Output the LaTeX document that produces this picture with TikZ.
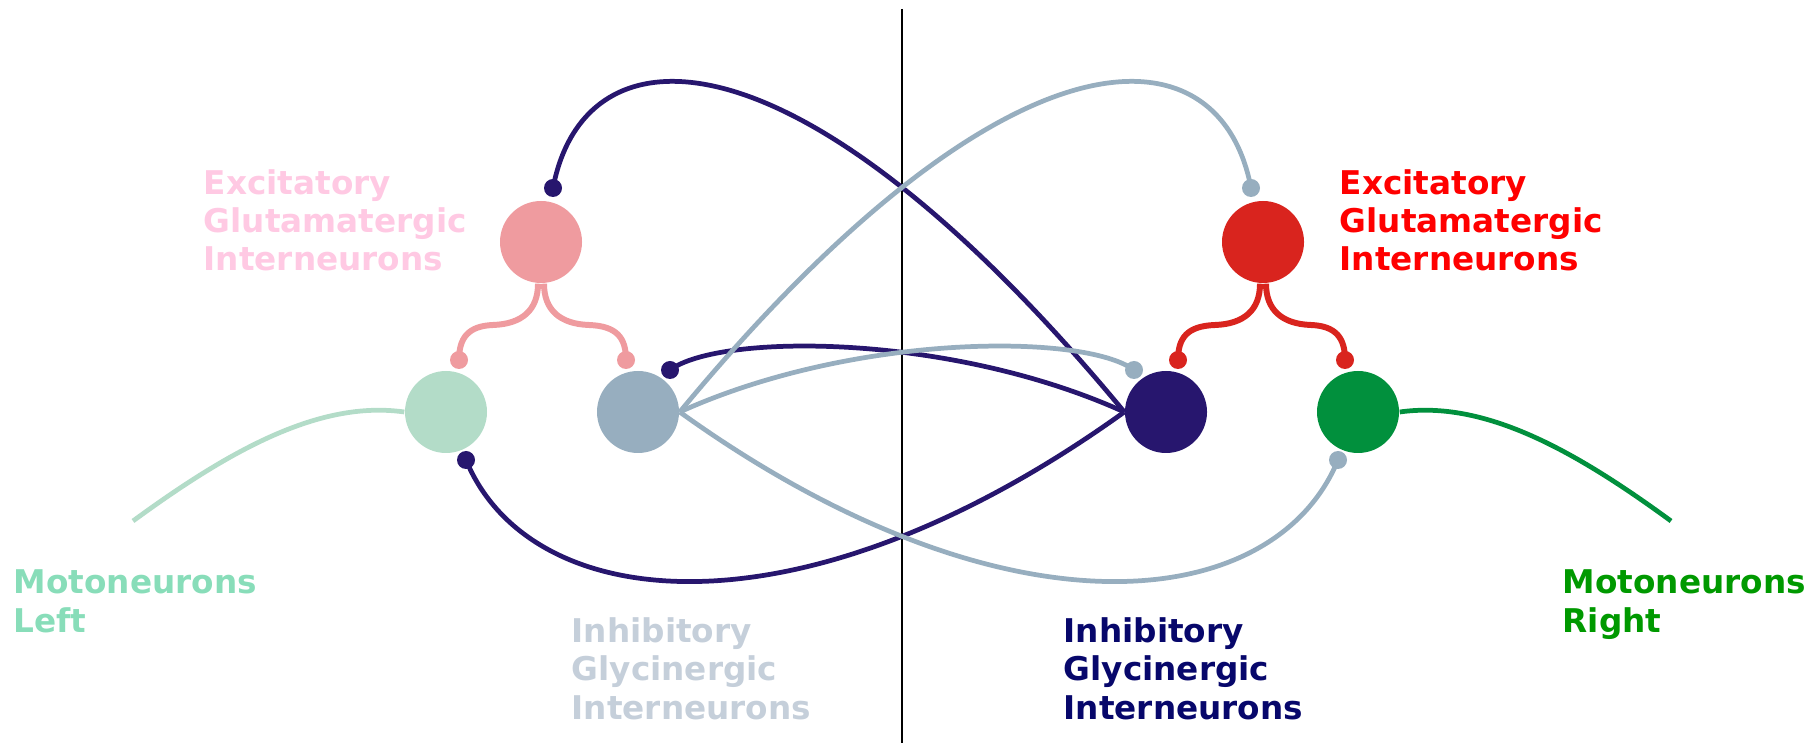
\documentclass[tikz,border=0pt]{standalone}
\usepackage{fontspec}
\setmainfont{DejaVu Sans}
\usepackage{xcolor}
\definecolor{excLfill}{HTML}{EF9B9F}
\definecolor{excLtext}{HTML}{FFC9E3}
\definecolor{motLfill}{HTML}{B3DCC8}
\definecolor{motLtext}{HTML}{88DDB9}
\definecolor{inhLfill}{HTML}{97AEBF}
\definecolor{inhLtext}{HTML}{C5CFDA}
\definecolor{inhRfill}{HTML}{27166E}
\definecolor{inhRtext}{HTML}{07076B}
\definecolor{excRfill}{HTML}{D9241E}
\definecolor{excRtext}{HTML}{FF0000}
\definecolor{motRfill}{HTML}{01903D}
\definecolor{motRtext}{HTML}{009900}

\begin{document}
\begin{tikzpicture}[x=1cm,y=-1cm,
  cell/.style={circle,inner sep=0pt,minimum size=0.82cm},
  syn/.style={circle,inner sep=0pt,minimum size=0.18cm},
  axon/.style={line width=1.35pt},
  lbl/.style={anchor=base west,inner sep=0pt,align=left,font={\bfseries\fontsize{9.3}{10.95}\selectfont}}]
  \useasboundingbox (0,0) rectangle (18.14,7.43);
  \draw[line width=0.4pt] (9.02,0.09) -- (9.02,7.43);

  \node[cell,fill=excLfill] (excL) at (5.41,2.42) {};
  \node[cell,fill=motLfill] (motL) at (4.46,4.12) {};
  \node[cell,fill=inhLfill] (inhL) at (6.38,4.12) {};
  \node[cell,fill=inhRfill] (inhR) at (11.66,4.12) {};
  \node[cell,fill=excRfill] (excR) at (12.63,2.42) {};
  \node[cell,fill=motRfill] (motR) at (13.58,4.12) {};

  \node[syn,fill=excLfill] (gL1) at (4.59,3.60) {};
  \node[syn,fill=excLfill] (gL2) at (6.26,3.60) {};
  \node[syn,fill=excRfill] (gR1) at (11.78,3.60) {};
  \node[syn,fill=excRfill] (gR2) at (13.45,3.60) {};
  \node[syn,fill=inhRfill] (nTop) at (5.53,1.88) {};
  \node[syn,fill=inhRfill] (nMid) at (6.70,3.70) {};
  \node[syn,fill=inhRfill] (nLow) at (4.66,4.60) {};
  \node[syn,fill=inhLfill] (bTop) at (12.51,1.88) {};
  \node[syn,fill=inhLfill] (bMid) at (11.34,3.70) {};
  \node[syn,fill=inhLfill] (bLow) at (13.38,4.60) {};

  \draw[axon,excLfill,line width=1.7pt] ([xshift=-0.3mm]excL.south) .. controls (5.38,3.1) and (5.22,3.24) .. (4.93,3.25)
     .. controls (4.68,3.26) and (4.59,3.38) .. (gL1.center);
  \draw[axon,excLfill,line width=1.7pt] ([xshift=0.3mm]excL.south) .. controls (5.44,3.1) and (5.60,3.24) .. (5.89,3.25)
     .. controls (6.17,3.26) and (6.26,3.38) .. (gL2.center);
  \draw[axon,excRfill,line width=1.7pt] ([xshift=-0.3mm]excR.south) .. controls (12.60,3.1) and (12.44,3.24) .. (12.15,3.25)
     .. controls (11.87,3.26) and (11.78,3.38) .. (gR1.center);
  \draw[axon,excRfill,line width=1.7pt] ([xshift=0.3mm]excR.south) .. controls (12.66,3.1) and (12.82,3.24) .. (13.11,3.25)
     .. controls (13.36,3.26) and (13.45,3.38) .. (gR2.center);

  \draw[axon,inhRfill] (nTop.center) .. controls (5.85,0.2) and (8.0,0.2) .. (inhR.west);
  \draw[axon,inhRfill] (nMid.center) .. controls (7.2,3.33) and (9.5,3.33) .. (inhR.west);
  \draw[axon,inhRfill] (nLow.center) .. controls (5.3,6.15) and (8.0,6.45) .. (inhR.west);
  \draw[axon,inhLfill] (inhL.east) .. controls (10.04,0.2) and (12.19,0.2) .. (bTop.center);
  \draw[axon,inhLfill] (inhL.east) .. controls (8.54,3.33) and (10.84,3.33) .. (bMid.center);
  \draw[axon,inhLfill] (inhL.east) .. controls (10.04,6.45) and (12.74,6.15) .. (bLow.center);

  \draw[axon,motLfill] (motL.west) .. controls (3.2,4.0) and (2.3,4.5) .. (1.33,5.21);
  \draw[axon,motRfill] (motR.east) .. controls (14.84,4.0) and (15.74,4.5) .. (16.71,5.21);

  \node[lbl,text=excLtext] (lExcL) at (2.03,2.71) {Excitatory\\Glutamatergic\\Interneurons};
  \node[lbl,text=excRtext] (lExcR) at (13.39,2.71) {Excitatory\\Glutamatergic\\Interneurons};
  \node[lbl,text=motLtext] (lMotL) at (0.13,6.32) {Motoneurons\\Left};
  \node[lbl,text=motRtext] (lMotR) at (15.62,6.32) {Motoneurons\\Right};
  \node[lbl,text=inhLtext] (lInhL) at (5.71,7.19) {Inhibitory\\Glycinergic\\Interneurons};
  \node[lbl,text=inhRtext] (lInhR) at (10.63,7.19) {Inhibitory\\Glycinergic\\Interneurons};
\end{tikzpicture}
\end{document}
